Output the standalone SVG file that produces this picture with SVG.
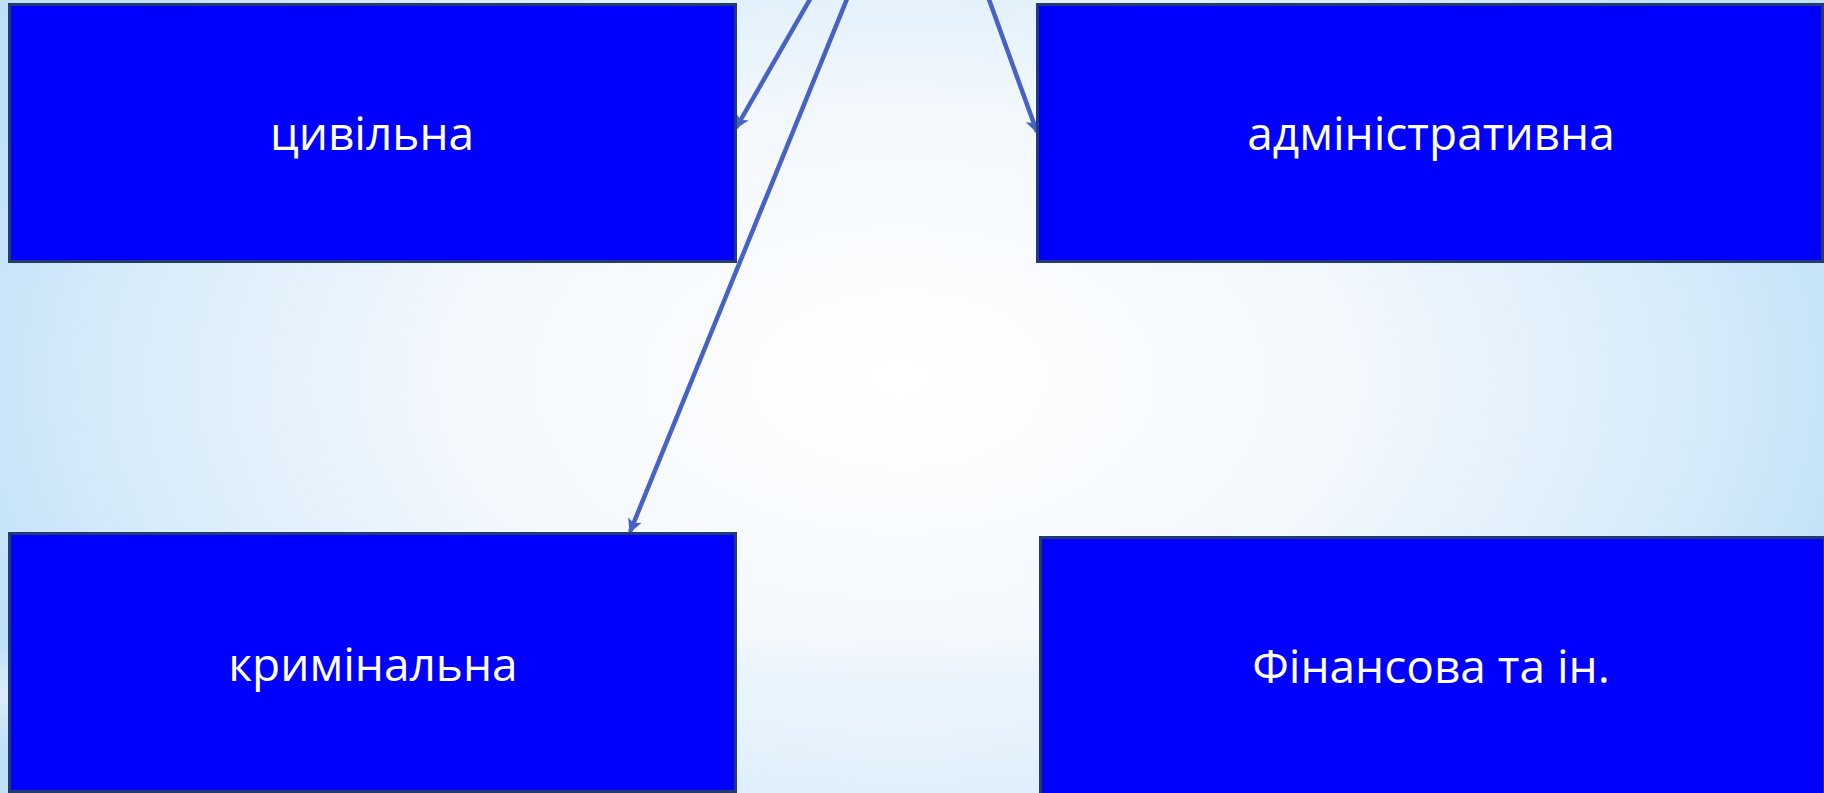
<svg xmlns="http://www.w3.org/2000/svg" width="1824" height="793" viewBox="0 0 1824 793">
  <style>
    .box { fill: #0000ff; stroke: #243a72; stroke-width: 3; }
    .lbl { fill: #ffffff; font-family: "Open Sans", "DejaVu Sans", sans-serif; font-size: 46px; text-anchor: middle; }
    .conn { fill: none; stroke: #4662c4; stroke-width: 4.5; }
  </style>
  <defs>
    <radialGradient id="bg" cx="900" cy="380" r="1000" gradientUnits="userSpaceOnUse" gradientTransform="translate(900 380) scale(1 0.6) translate(-900 -380)">
      <stop offset="0" stop-color="#ffffff"/>
      <stop offset="0.45" stop-color="#f3f8fd"/>
      <stop offset="0.8" stop-color="#d6ebfa"/>
      <stop offset="1" stop-color="#bfe0f7"/>
    </radialGradient>
    <linearGradient id="band" x1="0" y1="0" x2="0" y2="1">
      <stop offset="0" stop-color="#e6f2fb" stop-opacity="0"/>
      <stop offset="0.5" stop-color="#e6f2fb" stop-opacity="0.7"/>
      <stop offset="1" stop-color="#e6f2fb" stop-opacity="0"/>
    </linearGradient>
    <marker id="arr" viewBox="0 0 10 10" refX="9" refY="5" markerWidth="3.2" markerHeight="3.2" orient="auto" markerUnits="strokeWidth">
      <path d="M0,0 L10,5 L0,10 L2.5,5 Z" fill="#4662c4"/>
    </marker>
  </defs>
  <rect x="0" y="0" width="1824" height="793" fill="url(#bg)"/>
  <rect x="0" y="640" width="1824" height="110" fill="url(#band)"/>

  <g id="connectors">
    <line class="conn" x1="813" y1="-6" x2="736" y2="128" marker-end="url(#arr)"/>
    <line class="conn" x1="849" y1="-6" x2="630" y2="532" marker-end="url(#arr)"/>
    <line class="conn" x1="987" y1="-6" x2="1037" y2="132" marker-end="url(#arr)"/>
  </g>

  <g id="node-civil">
    <rect class="box" x="9.5" y="4.5" width="726" height="257"/>
    <text class="lbl" x="372" y="150">цивільна</text>
  </g>
  <g id="node-admin">
    <rect class="box" x="1037.5" y="4.5" width="785" height="257"/>
    <text class="lbl" x="1431" y="150">адміністративна</text>
  </g>
  <g id="node-criminal">
    <rect class="box" x="9.5" y="533.5" width="726" height="258"/>
    <text class="lbl" x="373" y="681">кримінальна</text>
  </g>
  <g id="node-finance">
    <rect class="box" x="1040.5" y="537.5" width="784" height="258"/>
    <text class="lbl" x="1431" y="683">Фінансова та ін.</text>
  </g>
</svg>
